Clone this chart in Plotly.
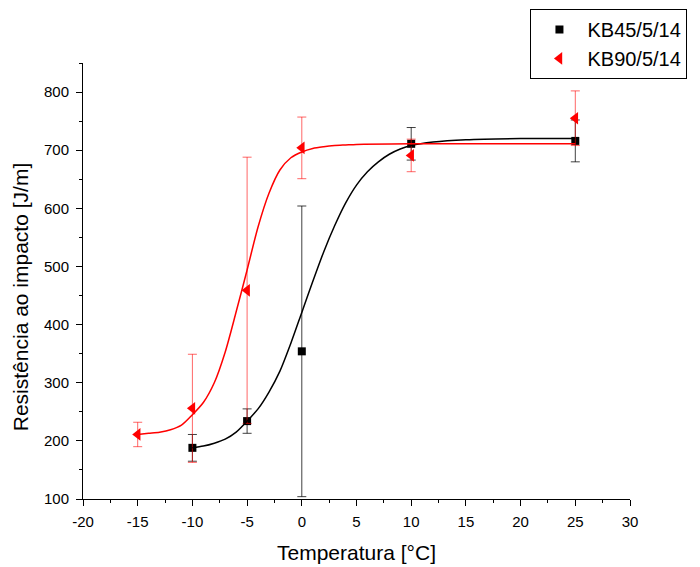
import plotly.graph_objects as go

# Measured data
temp_kb45 = [-10, -5, 0, 10, 25]
res_kb45 = [188, 234, 354, 711, 716]
err_kb45 = [23, 21, 250, 28, 36]

temp_kb90 = [-15, -10, -5, 0, 10, 25]
res_kb90 = [211, 256, 459, 704, 691, 755]
err_kb90 = [21, 93, 229, 53, 28, 47]

# Fitted curves
fit45_x = [-10, -9, -8, -7, -6, -5, -4, -3, -2, -1, 0, 1, 2, 3, 4, 5, 6, 7, 8, 9, 10, 12, 15, 20, 25]
fit45_y = [188, 191, 196, 203, 215, 234, 255, 284, 320, 368, 421, 474, 525, 570, 609, 640, 663, 680, 693, 702, 708, 714, 718, 720, 720]

fit90_x = [-15, -14, -13, -12, -11, -10, -9, -8, -7, -6, -5, -4, -3, -2, -1, 0, 1, 2, 3, 4, 5, 10, 15, 20, 25]
fit90_y = [211, 213, 215, 219, 227, 245, 266, 300, 353, 422, 494, 568, 626, 666, 687, 697, 703, 706, 708, 709, 710, 711, 711, 711, 711]

x_ticks = [-20, -15, -10, -5, 0, 5, 10, 15, 20, 25, 30]
y_ticks = [100, 200, 300, 400, 500, 600, 700, 800]

FONT = "Liberation Sans, Arial, sans-serif"

fig = go.Figure()

fig.add_trace(go.Scatter(
    x=temp_kb45, y=res_kb45, mode="markers", name="KB45/5/14",
    marker=dict(symbol="square", size=8, color="black"),
    error_y=dict(type="data", array=err_kb45, visible=True, color="rgba(0,0,0,0.75)",
                 thickness=1, width=4.5),
))
fig.add_trace(go.Scatter(
    x=temp_kb90, y=res_kb90, mode="markers", name="KB90/5/14",
    marker=dict(symbol="triangle-left", size=11, color="red"),
    error_y=dict(type="data", array=err_kb90, visible=True, color="rgba(255,0,0,0.6)",
                 thickness=1, width=4.5),
))
fig.add_trace(go.Scatter(
    x=fit45_x, y=fit45_y, mode="lines", showlegend=False,
    line=dict(color="black", width=1.5, shape="spline", smoothing=0.8), hoverinfo="skip",
))
fig.add_trace(go.Scatter(
    x=fit90_x, y=fit90_y, mode="lines", showlegend=False,
    line=dict(color="red", width=1.5, shape="spline", smoothing=0.8), hoverinfo="skip",
))

fig.update_layout(
    width=700, height=567,
    margin=dict(l=83, r=70, t=63, b=68, autoexpand=False),
    paper_bgcolor="white", plot_bgcolor="white",
    font=dict(family=FONT, color="black", size=15),
    showlegend=True,
    legend=dict(
        x=0.818, y=1.124, xanchor="left", yanchor="top",
        bgcolor="white", bordercolor="black", borderwidth=1,
        font=dict(size=20, family=FONT), itemwidth=46,
        tracegroupgap=0,
    ),
    xaxis=dict(
        range=[-20, 30], tickvals=x_ticks, ticktext=[str(v) for v in x_ticks],
        showgrid=False, zeroline=False, showline=True, linecolor="black", linewidth=1,
        ticks="outside", ticklen=6, tickwidth=1, tickcolor="black",
        minor=dict(dtick=2.5, ticks="outside", ticklen=3, tickcolor="black", showgrid=False),
        tickfont=dict(size=15), ticklabelstandoff=3,
        title=dict(text="Temperatura [°C]", font=dict(size=21), standoff=16),
    ),
    yaxis=dict(
        range=[100, 850], tickvals=y_ticks, ticktext=[str(v) for v in y_ticks],
        showgrid=False, zeroline=False, showline=True, linecolor="black", linewidth=1,
        ticks="outside", ticklen=6, tickwidth=1, tickcolor="black",
        minor=dict(dtick=50, ticks="outside", ticklen=3, tickcolor="black", showgrid=False),
        tickfont=dict(size=15), ticklabelstandoff=4,
    ),
    annotations=[dict(
        text="Resistência ao impacto [J/m]", xref="paper", yref="paper",
        x=-0.115, y=0.463, xanchor="center", yanchor="middle", textangle=-90,
        showarrow=False, font=dict(size=21, family=FONT, color="black"),
    )],
)

fig.write_html("out.html")
